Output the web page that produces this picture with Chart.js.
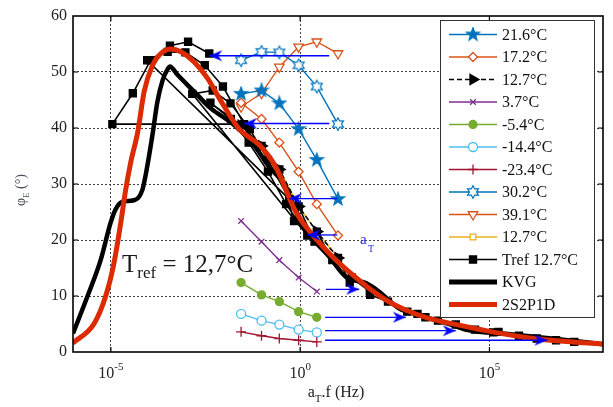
<!DOCTYPE html>
<html>
<head>
<meta charset="utf-8">
<script src="https://cdn.jsdelivr.net/npm/chart.js@4.4.1/dist/chart.umd.min.js"></script>
<style>
  html, body { margin: 0; padding: 0; background: #fff; }
  #wrap { width: 613px; height: 407px; }
</style>
</head>
<body>
<div id="wrap"><canvas id="phaseChart" width="613" height="407"></canvas></div>
<script>
// x values are log10(aT.f) in Hz, y values are phase angle in degrees

// raw test frequencies (0.03 ... 10 Hz)
const rawLogF = [-1.56, -1.02, -0.55, -0.04, 0.44, 1.0];

const phi21_6 = [46.1, 46.7, 44.4, 39.8, 34.3, 27.3];
const phi17_2 = [44.5, 41.6, 37.4, 32.2, 26.4, 20.8];
const phi12_7 = [40.5, 36.8, 32.6, 26.0, 21.5, 16.8];
const phi3_7 = [23.4, 19.7, 16.4, 13.3, 10.8];
const phiM5_4 = [12.4, 10.2, 9.0, 7.2, 6.2];
const phiM14_4 = [6.8, 5.6, 4.9, 4.0, 3.5];
const phiM23_4 = [3.6, 2.9, 2.4, 2.1, 1.8];
const phi30_2 = [52.1, 53.6, 53.5, 51.2, 47.4, 40.7];
const phi39_1 = [43.8, 46.2, 50.9, 54.5, 55.4, 53.3];

// shifted data, master curve at Tref = 12.7 C
const trefLogF = [-2.40, -2.96, -3.44, -3.95, -4.42, -4.96,
  -1.48, -2.04, -2.52, -3.03, -3.50, -4.04,
  -0.29, -0.85, -1.33, -1.84, -2.31, -2.85,
  0.19, -0.37, -0.85, -1.36, -1.83, -2.37,
  -1.56, -1.02, -0.55, -0.16, -0.04, 0.38, 0.44, 0.85, 1.0, 1.31, 1.36, 1.84, 1.85,
  2.32, 2.83, 3.10, 3.31, 3.64, 4.11, 4.62, 5.10, 5.24, 5.78, 6.25, 6.76, 7.24];
const trefPhi = [53.3, 55.4, 54.7, 52.1, 46.2, 40.7,
  40.7, 47.4, 51.2, 53.5, 53.6, 52.1,
  27.3, 34.3, 39.8, 44.4, 46.7, 46.1,
  20.8, 26.4, 32.2, 37.4, 41.6, 44.5,
  40.5, 36.8, 32.6, 23.4, 26.0, 19.7, 21.5, 16.4, 16.8, 12.4, 13.3, 10.8, 10.2,
  9.0, 7.2, 6.8, 6.2, 5.6, 4.9, 4.0, 3.5, 3.6, 2.9, 2.4, 2.1, 1.8];

// model curves
const kvgLogF = [-6.0, -5.62, -5.27, -5.01, -4.88, -4.70, -4.39, -4.17, -4.04, -3.90, -3.77, -3.63,
  -3.50, -3.44, -3.24, -2.80, -2.36, -1.79, -1.26, -0.82, -0.38, -0.20, 0.15, 0.77, 1.21, 1.74,
  2.08, 2.61, 3.14, 4.02, 4.43, 5.5, 6.83, 8.0];
const kvgPhi = [3.3, 9.9, 16.4, 23.0, 25.4, 26.8, 27.1, 28.9, 33.1, 38.8, 44.7, 48.6,
  50.5, 51.0, 49.5, 46.5, 43.5, 40.8, 37.3, 33.1, 29.5, 26.6, 21.8, 17.0, 13.4, 12.3,
  10.8, 7.8, 6.6, 4.8, 3.9, 3.2, 2.3, 1.4];

const s2p1dLogF = [-6.0, -5.44, -5.14, -4.92, -4.74, -4.61, -4.48, -4.29, -4.12, -3.90, -3.68, -3.41,
  -3.15, -2.80, -2.45, -2.09, -1.61, -1.08, -0.64, -0.13, 0.15, 0.77, 1.38, 1.82, 2.26, 2.79,
  3.40, 4.20, 5.07, 5.96, 6.80, 8.0];
const s2p1dPhi = [1.6, 5.1, 9.9, 15.8, 23.0, 28.9, 33.7, 39.3, 46.5, 51.2, 53.3, 54.1,
  53.6, 51.8, 48.9, 44.8, 39.8, 37.0, 33.0, 25.2, 22.4, 17.6, 13.8, 11.4, 9.3, 7.5,
  6.0, 4.8, 3.6, 2.6, 2.0, 1.4];

// shift arrows (aT)
const arrowPhi = [52.9, 40.8, 27.4, 20.9, 11.2, 6.2, 3.8, 2.1];
const arrowFrom = [0.77, 0.77, 0.98, 0.98, 0.68, 0.66, 0.66, 0.66];
const arrowTo = [-2.40, -1.48, -0.29, 0.19, 1.56, 2.79, 4.11, 6.53];

const xTicks = [-5, 0, 5];

function pts(xs, ys) {
    return ys.map((y, i) => ({ x: xs[i], y: y }));
}

// custom marker images
function makeStar(n, rOut, rIn, fill, stroke) {
    const c = document.createElement("canvas");
    c.width = 16; c.height = 16;
    const g = c.getContext("2d");
    g.beginPath();
    for (let i = 0; i < n * 2; i++) {
        const r = i % 2 === 0 ? rOut : rIn;
        const a = -Math.PI / 2 + i * Math.PI / n;
        const px = 8 + r * Math.cos(a), py = 8 + r * Math.sin(a);
        if (i === 0) g.moveTo(px, py); else g.lineTo(px, py);
    }
    g.closePath();
    g.fillStyle = fill;
    g.fill();
    g.strokeStyle = stroke;
    g.lineWidth = 1.2;
    g.stroke();
    return c;
}

function makeArrowHead() {
    // tip sits at the image centre, so the head ends on the data point
    const c = document.createElement("canvas");
    c.width = 32; c.height = 12;
    const g = c.getContext("2d");
    g.beginPath();
    g.moveTo(16, 6);
    g.lineTo(3, 0.5);
    g.lineTo(7, 6);
    g.lineTo(3, 11.5);
    g.closePath();
    g.fillStyle = "#0000ff";
    g.fill();
    return c;
}

const starFilled = makeStar(5, 6.8, 2.8, "#0072BD", "#0072BD");
const starOpen = makeStar(6, 6.3, 3.5, "#ffffff", "#0072BD");
const arrowHead = makeArrowHead();

const BLUE = "#0072BD", ORANGE = "#D95319", YELLOW = "#EDB120", PURPLE = "#7E2F8E";
const GREEN = "#77AC30", CYAN = "#4DBEEE", WINE = "#A2142F", RED = "#DC2B02";

const series = [
    { label: "21.6°C", data: pts(rawLogF, phi21_6), borderColor: BLUE, backgroundColor: BLUE,
      pointStyle: starFilled, pointRadius: 7, order: 2 },
    { label: "17.2°C", data: pts(rawLogF, phi17_2), borderColor: ORANGE, backgroundColor: "#fff",
      pointStyle: "rectRot", pointRadius: 4.5, order: 2 },
    { label: "12.7°C", data: pts(rawLogF, phi12_7), borderColor: "#000", backgroundColor: "#000",
      pointStyle: "triangle", pointRotation: 90, pointRadius: 6, borderDash: [5, 3], borderWidth: 1.6, order: 3 },
    { label: "3.7°C", data: pts(rawLogF, phi3_7), borderColor: PURPLE, backgroundColor: PURPLE,
      pointStyle: "crossRot", pointRadius: 4, order: 2 },
    { label: "-5.4°C", data: pts(rawLogF, phiM5_4), borderColor: GREEN, backgroundColor: GREEN,
      pointStyle: "circle", pointRadius: 4, order: 2 },
    { label: "-14.4°C", data: pts(rawLogF, phiM14_4), borderColor: CYAN, backgroundColor: "#fff",
      pointStyle: "circle", pointRadius: 4.5, order: 2 },
    { label: "-23.4°C", data: pts(rawLogF, phiM23_4), borderColor: WINE, backgroundColor: WINE,
      pointStyle: "cross", pointRadius: 5, order: 2 },
    { label: "30.2°C", data: pts(rawLogF, phi30_2), borderColor: BLUE, backgroundColor: "#fff",
      pointStyle: starOpen, pointRadius: 7, order: 2 },
    { label: "39.1°C", data: pts(rawLogF, phi39_1), borderColor: ORANGE, backgroundColor: "#fff",
      pointStyle: "triangle", pointRotation: 180, pointRadius: 5.5, order: 2 },
    { label: "12.7°C", data: pts(rawLogF, phi12_7), borderColor: YELLOW, backgroundColor: "#fff",
      pointStyle: "rect", pointRadius: 4, order: 6 },
    { label: "Tref 12.7°C", data: pts(trefLogF, trefPhi), borderColor: "#000", backgroundColor: "#000",
      pointStyle: "rect", pointRadius: 5, borderWidth: 1.6, order: 4 },
    { label: "KVG", data: pts(kvgLogF, kvgPhi), borderColor: "#000", borderWidth: 4.5,
      pointRadius: 0, cubicInterpolationMode: "monotone", order: 3, legendWidth: 5 },
    { label: "2S2P1D", data: pts(s2p1dLogF, s2p1dPhi), borderColor: RED, borderWidth: 5,
      pointRadius: 0, cubicInterpolationMode: "monotone", order: 1, legendWidth: 5 }
];

const datasets = series.map(s => Object.assign({
    borderWidth: 1.4,
    pointBorderWidth: 1.3,
    pointBorderColor: s.borderColor,
    pointBackgroundColor: s.backgroundColor,
    fill: false,
    tension: 0
}, s));

arrowPhi.forEach((p, i) => {
    const right = arrowTo[i] > arrowFrom[i];
    datasets.push({
        label: "",
        data: [{ x: arrowFrom[i], y: p }, { x: arrowTo[i], y: p }],
        borderColor: "#0000ff", borderWidth: 1.3,
        pointRadius: [0, 8], pointStyle: arrowHead, pointRotation: right ? 0 : 180,
        order: 0
    });
});

const serif = "'Liberation Serif', 'Times New Roman', serif";

// box, inward ticks, axis labels, annotations, legend
const decorations = {
    id: "decorations",
    afterDraw(chart) {
        const ctx = chart.ctx;
        const a = chart.chartArea;
        const xs = chart.scales.x, ys = chart.scales.y;
        ctx.save();

        // frame with inward ticks
        ctx.strokeStyle = "#000";
        ctx.lineWidth = 1.6;
        ctx.strokeRect(a.left, a.top, a.right - a.left, a.bottom - a.top);
        ctx.lineWidth = 1.2;
        ctx.beginPath();
        xTicks.forEach(v => {
            const px = xs.getPixelForValue(v);
            ctx.moveTo(px, a.bottom); ctx.lineTo(px, a.bottom - 5);
            ctx.moveTo(px, a.top); ctx.lineTo(px, a.top + 5);
        });
        for (let v = 10; v < 60; v += 10) {
            const py = ys.getPixelForValue(v);
            ctx.moveTo(a.left, py); ctx.lineTo(a.left + 5, py);
            ctx.moveTo(a.right, py); ctx.lineTo(a.right - 5, py);
        }
        ctx.stroke();

        // x tick labels 10^n
        ctx.fillStyle = "#222";
        ctx.textBaseline = "alphabetic";
        xTicks.forEach(v => {
            const px = xs.getPixelForValue(v);
            const sup = v < 0 ? "-" + Math.abs(v) : String(v);
            ctx.font = "16px " + serif;
            const w1 = ctx.measureText("10").width;
            ctx.font = "11px " + serif;
            const w2 = ctx.measureText(sup).width;
            const x0 = px - (w1 + w2) / 2;
            ctx.font = "16px " + serif;
            ctx.textAlign = "left";
            ctx.fillText("10", x0, 378);
            ctx.font = "11px " + serif;
            ctx.fillText(sup, x0 + w1, 370);
        });

        // x title
        ctx.font = "16px " + serif;
        const tA = ctx.measureText("a").width;
        const tRest = ctx.measureText(".f (Hz)").width;
        ctx.font = "11px " + serif;
        const tT = ctx.measureText("T").width;
        let tx = 336 - (tA + tT + tRest) / 2;
        ctx.font = "16px " + serif;
        ctx.fillText("a", tx, 397);
        ctx.font = "11px " + serif;
        ctx.fillText("T", tx + tA, 402);
        ctx.font = "16px " + serif;
        ctx.fillText(".f (Hz)", tx + tA + tT, 397);

        // y title
        ctx.save();
        ctx.translate(25, 190);
        ctx.rotate(-Math.PI / 2);
        ctx.fillStyle = "#4a4f5e";
        ctx.font = "14px " + serif;
        const yPhi = ctx.measureText("\u03c6").width;
        const yRest = ctx.measureText(" (°)").width;
        ctx.font = "9px " + serif;
        const yE = ctx.measureText("E").width;
        let yx = -(yPhi + yE + yRest) / 2;
        ctx.font = "14px " + serif;
        ctx.fillText("\u03c6", yx, 0);
        ctx.font = "9px " + serif;
        ctx.fillText("E", yx + yPhi, 4);
        ctx.font = "14px " + serif;
        ctx.fillText(" (°)", yx + yPhi + yE, 0);
        ctx.restore();

        // Tref annotation
        ctx.fillStyle = "#1a1a1a";
        ctx.font = "25px " + serif;
        ctx.fillText("T", 122, 272);
        const wT = ctx.measureText("T").width;
        ctx.font = "17px " + serif;
        ctx.fillText("ref", 122 + wT, 278);
        const wRef = ctx.measureText("ref").width;
        ctx.font = "25px " + serif;
        ctx.fillText(" = 12,7°C", 122 + wT + wRef, 272);

        // aT label
        ctx.fillStyle = "#2a2aff";
        ctx.font = "15px " + serif;
        ctx.fillText("a", 360, 244);
        ctx.font = "10px " + serif;
        ctx.fillText("T", 368, 252);

        // legend
        const lx = 440, ly = 20, lw = 154, lh = 297;
        ctx.fillStyle = "#fff";
        ctx.fillRect(lx, ly, lw, lh);
        ctx.strokeStyle = "#333";
        ctx.lineWidth = 1;
        ctx.strokeRect(lx + 0.5, ly + 0.5, lw, lh);
        series.forEach((s, i) => {
            const cy = 34.5 + i * 22.5;
            ctx.save();
            ctx.strokeStyle = s.borderColor;
            ctx.lineWidth = s.legendWidth || 1.5;
            ctx.setLineDash(s.borderDash || []);
            ctx.beginPath();
            ctx.moveTo(449, cy); ctx.lineTo(497, cy);
            ctx.stroke();
            ctx.setLineDash([]);
            if (s.pointRadius > 0 && Chart.helpers && Chart.helpers.drawPoint) {
                ctx.fillStyle = s.backgroundColor;
                ctx.strokeStyle = s.borderColor;
                ctx.lineWidth = 1.3;
                Chart.helpers.drawPoint(ctx, {
                    pointStyle: s.pointStyle,
                    rotation: s.pointRotation || 0,
                    radius: s.pointRadius,
                    borderWidth: 1.3
                }, 473, cy);
            }
            ctx.restore();
            ctx.fillStyle = "#111";
            ctx.font = "16px " + serif;
            ctx.textBaseline = "middle";
            ctx.textAlign = "left";
            ctx.fillText(s.label, 502, cy + 1);
            ctx.textBaseline = "alphabetic";
        });

        ctx.restore();
    }
};

new Chart(document.getElementById("phaseChart"), {
    type: "line",
    data: { datasets: datasets },
    options: {
        responsive: false,
        animation: false,
        layout: { padding: { top: 16, right: 10, left: 0, bottom: 0 } },
        plugins: {
            legend: { display: false },
            tooltip: { enabled: false }
        },
        scales: {
            x: {
                type: "linear",
                min: -6, max: 8,
                afterBuildTicks: s => { s.ticks = xTicks.map(v => ({ value: v })); },
                afterFit: s => { s.height = 55; },
                ticks: { display: false },
                grid: { color: "#444", lineWidth: 1, drawTicks: false },
                border: { display: false, dash: [2, 2] }
            },
            y: {
                min: 0, max: 60,
                afterFit: s => { s.width = 73; },
                ticks: {
                    stepSize: 10, padding: 6, color: "#222",
                    font: { family: serif, size: 16 }
                },
                grid: {
                    color: ctx => (ctx.tick.value === 0 || ctx.tick.value === 60) ? "rgba(0,0,0,0)" : "#444",
                    lineWidth: 1, drawTicks: false
                },
                border: { display: false, dash: [2, 2] }
            }
        }
    },
    plugins: [decorations]
});
</script>
</body>
</html>
